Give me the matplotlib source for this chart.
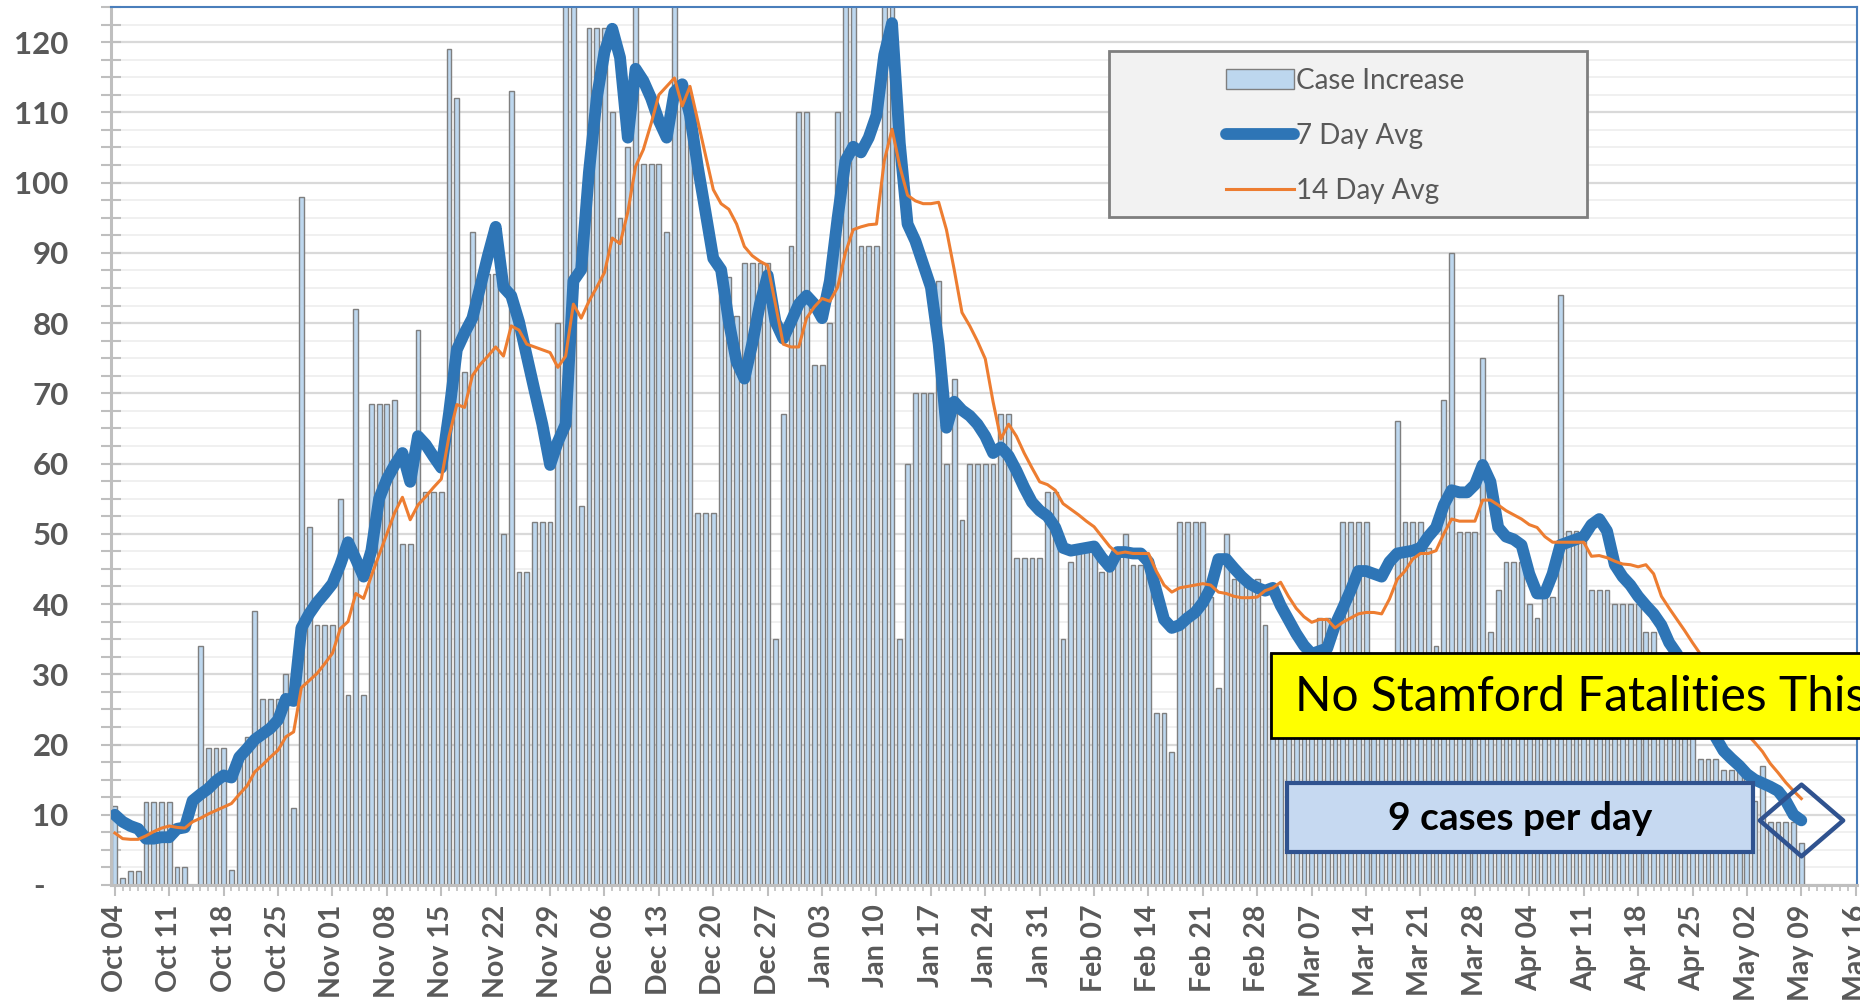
import matplotlib
matplotlib.use("Agg")
import matplotlib.pyplot as plt
import matplotlib.dates as mdates
from matplotlib.patches import Rectangle
from matplotlib.path import Path
import pandas as pd

plt.rcParams['font.family'] = ['Lato', 'DejaVu Sans']

# daily values, starting Oct 04
case_increase = [
    11.3, 1, 2, 2, 11.8, 11.8, 11.8, 11.8, 2.5, 2.5,
    0, 34, 19.5, 19.5, 19.5, 2.2, 19, 21, 39, 26.5,
    26.5, 26.5, 30, 11, 98, 51, 37, 37, 37, 55,
    27, 82, 27, 68.5, 68.5, 68.5, 69, 48.5, 48.5, 79,
    56, 56, 56, 119, 112, 73, 93, 87, 87, 87,
    50, 113, 44.5, 44.5, 51.7, 51.7, 51.7, 80, 132, 132,
    54, 122, 122, 122, 110, 95, 105, 128, 102.7, 102.7,
    102.7, 93, 130, 112, 108, 53, 53, 53, 88, 86.5,
    81, 88.6, 88.6, 88.6, 88.6, 35, 67, 91, 110, 110,
    74, 74, 80, 110, 135, 130, 91, 91, 91, 130,
    128, 35, 60, 70, 70, 70, 86, 60, 72, 52,
    60, 60, 60, 60, 67, 67, 46.6, 46.6, 46.6, 46.6,
    56, 56, 35, 46, 47.4, 47.4, 47.4, 44.5, 45, 48,
    50, 45.5, 45.5, 45.5, 24.5, 24.5, 19, 51.7, 51.7, 51.7,
    51.7, 41, 28, 50, 43.5, 43.5, 43.5, 43.5, 37, 33,
    31, 31, 31, 31, 30, 38, 38, 30, 51.7, 51.7,
    51.7, 51.7, 31, 31, 33, 66, 51.7, 51.7, 51.7, 48,
    34, 69, 90, 50.2, 50.2, 50.2, 75, 36, 42, 46,
    46, 46, 40, 38, 41, 41, 84, 50.4, 50.4, 50.4,
    42, 42, 42, 40, 40, 40, 40, 36, 36, 28,
    28, 28, 28, 25, 18, 18, 18, 16.4, 16.4, 16.4,
    16.4, 12, 17, 9, 9, 9, 9, 6,
]

avg_7day = [
    10, 9, 8.4, 8, 6.6, 6.6, 6.8, 6.8, 8, 8.2,
    12, 12.9, 13.7, 14.8, 15.6, 15.3, 18.2, 19.4, 20.7, 21.5,
    22.3, 23.5, 26.5, 26.2, 36.6, 38.6, 40.2, 41.5, 42.9, 45.6,
    48.8, 46.4, 43.9, 47.6, 55, 57.8, 59.8, 61.5, 57.4, 63.9,
    62.7, 61, 59.4, 67.2, 76.2, 78.6, 80.7, 85.1, 89.6, 93.7,
    85.1, 83.9, 80.2, 75.3, 70.4, 65.6, 59.8, 63.1, 65.6, 86,
    87.6, 101.5, 112, 118.6, 121.9, 117.8, 106.4, 116.2, 114.5, 112,
    108.8, 106.4, 112.9, 114, 109.6, 102.3, 95.8, 89.2, 87.6, 80.2,
    74.5, 72.1, 77, 82.7, 86.8, 80.2, 77.8, 80.2, 82.7, 83.9,
    82.7, 80.7, 86, 95, 103.1, 105.1, 104.3, 106.4, 109.6, 118.2,
    122.7, 105.6, 94.1, 91.7, 88.4, 85.1, 77, 65.1, 68.8, 67.6,
    66.8, 65.6, 63.9, 61.5, 62.3, 61.1, 59, 56.6, 54.5, 53.3,
    52.5, 50.9, 48, 47.6, 47.8, 48, 48.2, 46.6, 45.3, 47.4,
    47.4, 47.2, 47.2, 46, 41.9, 37.8, 36.6, 37, 38, 38.8,
    40.2, 42.3, 46.4, 46.4, 45.1, 43.9, 42.9, 42.3, 41.9, 42.3,
    39.8, 37.8, 35.8, 34.1, 32.9, 33.3, 33.7, 37, 39.4, 41.9,
    44.7, 44.7, 44.3, 43.9, 46, 47.2, 47.4, 47.6, 48, 49.6,
    50.9, 54.1, 56.2, 55.9, 55.9, 57, 59.8, 57.4, 50.9, 49.6,
    49.2, 48.4, 44.3, 41.5, 41.5, 44.3, 48.4, 48.8, 49.2, 49.6,
    51.3, 52.1, 50.4, 45.6, 43.9, 42.7, 41.1, 39.8, 38.6, 37,
    34.5, 32.9, 30.5, 28, 25.5, 23, 21, 19.1, 18, 17,
    15.8, 15, 14.5, 14, 13.4, 12, 10, 9.2,
]

avg_14day = [
    7.4, 6.6, 6.5, 6.5, 7.0, 7.6, 8.1, 8.4, 8.2, 8.1,
    9.0, 9.5, 10.1, 10.6, 11.1, 11.6, 12.9, 14.1, 16.1, 17.1,
    18.2, 19.2, 21.1, 21.8, 28.1, 29.1, 30.1, 31.5, 33, 36.5,
    37.5, 41.5, 40.8, 44, 47, 50, 53, 55.2, 52, 54.1,
    55.3, 56.6, 57.8, 63.9, 68.4, 68, 72.5, 74.1, 75.3, 76.6,
    75.3, 79.6, 79, 77, 76.6, 76.2, 75.8, 73.7, 75.3, 82.7,
    80.7, 83.1, 85.1, 87.2, 92.1, 91.3, 95.8, 102.3, 104.7, 108.4,
    112.5, 113.7, 114.9, 110.9, 113.7, 108.8, 103.9, 99, 97, 96.2,
    94.1, 90.9, 89.6, 88.8, 88.2, 82.7, 77, 76.6, 76.6, 80.7,
    82.3, 83.5, 83.1, 85.1, 90, 93.3, 93.7, 94, 94.1, 103.1,
    107.6, 102.3, 98.2, 97.4, 97, 97, 97.2, 93.3, 87.6, 81.5,
    79.6, 77.4, 74.9, 68.8, 63.5, 65.6, 63.9, 61.5, 59.4, 57.4,
    57, 56.2, 54.3, 53.5, 52.7, 51.8, 51, 49.6, 48.2, 47.2,
    47.4, 47.2, 47.2, 47.2, 44.7, 42.7, 41.7, 42.3, 42.5, 42.7,
    42.9, 42.7, 41.7, 41.5, 41.1, 40.9, 40.9, 41, 41.9, 42.3,
    43.1, 41.1, 39.4, 38.2, 37.4, 37.8, 37.8, 36.6, 37.4, 38,
    38.6, 38.8, 38.8, 38.6, 40.7, 43.5, 44.7, 46.4, 47.2, 47.2,
    47.6, 50, 52.1, 51.8, 51.8, 51.8, 54.8, 54.8, 54.1, 53.3,
    52.7, 52.1, 51.3, 50.9, 49.6, 48.8, 48.8, 48.8, 48.8, 48.8,
    46.8, 46.9, 46.6, 46.1, 45.7, 45.6, 45.3, 45.6, 44.3, 41.1,
    39.4, 37.8, 36.2, 34.5, 32.9, 31, 29, 27, 25, 23.5,
    21.5, 20.3, 19, 17.3, 16, 14.6, 13.4, 12.3,
]

dates = pd.date_range('2020-10-04', periods=len(case_increase), freq='D')
axis_end = pd.Timestamp('2021-05-16')

y_ticks = list(range(0, 121, 10))
y_labels = ['-   '] + [str(v) for v in y_ticks[1:]]

W, H = 1860, 1000
GRAY = '#595959'
BLUE = '#2e75b6'
ORANGE = '#ed7d31'

fig = plt.figure(figsize=(W / 100, H / 100), dpi=100)
ax = fig.add_axes([111 / W, 1 - 885 / H, (1857 - 111) / W, (885 - 7) / H])

bars = ax.bar(dates, case_increase, width=0.62, color='#bdd7ee', edgecolor='#7f7f7f',
              linewidth=1.0, label='Case Increase', zorder=2)
l7, = ax.plot(dates, avg_7day, color=BLUE, lw=8.5, solid_capstyle='round',
              solid_joinstyle='round', label='7 Day Avg', zorder=3)
l14, = ax.plot(dates, avg_14day, color=ORANGE, lw=2.2, label='14 Day Avg', zorder=4)

ax.set_ylim(0, 125)
ax.set_xlim(dates[0] - pd.Timedelta(hours=12), axis_end + pd.Timedelta(hours=4))

ax.set_yticks(y_ticks)
ax.set_yticklabels(y_labels)
ax.yaxis.set_minor_locator(matplotlib.ticker.MultipleLocator(2.5))
ax.xaxis.set_major_locator(mdates.WeekdayLocator(byweekday=mdates.SU))
ax.xaxis.set_minor_locator(mdates.DayLocator())
ax.xaxis.set_major_formatter(mdates.DateFormatter('%b %d'))

ax.grid(which='major', axis='y', color='#d9d9d9', lw=1.6, zorder=0)
ax.grid(which='minor', axis='y', color='#eeeeee', lw=1.2, zorder=0)
ax.set_axisbelow(True)

ax.tick_params(axis='y', which='both', direction='inout', length=15, width=1.5,
               color='#bfbfbf', pad=23, labelsize=22.5, labelcolor=GRAY)
ax.tick_params(axis='x', which='major', direction='out', length=8, width=1.5,
               color='#bfbfbf', pad=6, labelsize=20.5, labelcolor=GRAY,
               labelrotation=90)
ax.tick_params(axis='x', which='minor', direction='out', length=4, width=1.2,
               color='#bfbfbf')
for lab in ax.get_xticklabels() + ax.get_yticklabels():
    lab.set_fontweight('bold')

for side in ['left', 'bottom']:
    ax.spines[side].set_color('#bfbfbf')
    ax.spines[side].set_linewidth(2.2)
for side in ['top', 'right']:
    ax.spines[side].set_color('#4a7ebb')
    ax.spines[side].set_linewidth(1.5)

# legend box
fig.add_artist(Rectangle((1109 / W, 1 - 217 / H), 478 / W, 166 / H,
                         transform=fig.transFigure, facecolor='#f2f2f2',
                         edgecolor='#7f7f7f', lw=2, zorder=5))
leg = fig.legend(handles=[bars, l7, l14], loc='upper left',
                 bbox_to_anchor=(1212 / W, 1 - 54 / H),
                 frameon=False, fontsize=20, labelcolor=GRAY, borderpad=0,
                 handlelength=2.45, handletextpad=0.08, labelspacing=1.05)
leg.set_zorder(6)

# annotation boxes
fig.add_artist(Rectangle((1271 / W, 1 - 738 / H), 620 / W, 85 / H,
                         transform=fig.transFigure, facecolor='#ffff00',
                         edgecolor='black', lw=2, zorder=7))
fig.text(1295 / W, 1 - 697 / H, 'No Stamford Fatalities This Week', fontsize=34.5,
         color='black', va='center', ha='left', zorder=8)

fig.add_artist(Rectangle((1287 / W, 1 - 852 / H), 466 / W, 69 / H,
                         transform=fig.transFigure, facecolor='#c6d9f1',
                         edgecolor='#2f528f', lw=3, zorder=7))
fig.text(1520 / W, 1 - 818 / H, '9 cases per day', fontsize=28, color='black',
         fontweight='bold', va='center', ha='center', zorder=8)

diamond = Path([(-1, 0), (0, 0.86), (1, 0), (0, -0.86), (-1, 0)],
               [Path.MOVETO, Path.LINETO, Path.LINETO, Path.LINETO, Path.CLOSEPOLY])
ax.plot(dates[-1:], avg_7day[-1:], marker=diamond, markersize=60,
        markerfacecolor='none', markeredgecolor='#2f528f', markeredgewidth=3.2,
        linestyle='none', zorder=9, clip_on=False)

fig.savefig('out.png', dpi=100)
